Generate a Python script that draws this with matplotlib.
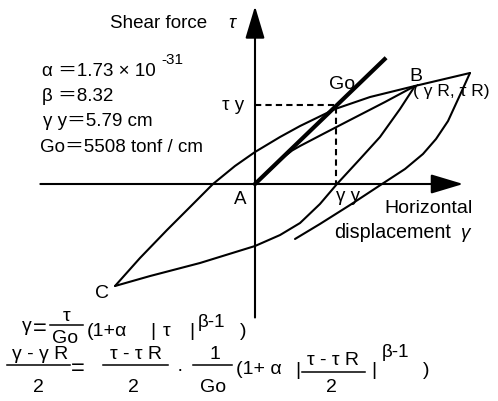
import matplotlib
matplotlib.use("Agg")
import matplotlib.pyplot as plt
import matplotlib.transforms as mtransforms

plt.rcParams["font.family"] = ["Liberation Sans", "Noto Sans CJK JP"]

# hysteresis sketch, in units of gamma_y and tau_y
go_gamma = [0.0, 1.60]
go_tau = [0.0, 1.58]

skel_gamma = [0.0, 0.185, 0.370, 0.460, 0.556, 0.864, 1.173, 1.605, 1.975]
skel_tau = [0.0, 0.177, 0.354, 0.425, 0.481, 0.646, 0.810, 1.038, 1.241]

upper_gamma = [2.654, 1.975, 1.420, 0.988, 0.556, 0.309, 0.0, -0.247, -0.519,
               -0.802, -1.086, -1.420, -1.728]
upper_tau = [1.405, 1.241, 1.101, 0.949, 0.734, 0.595, 0.405, 0.228, 0.0,
             -0.291, -0.582, -0.937, -1.291]

lower_gamma = [-1.728, -1.296, -0.679, 0.0, 0.309, 0.556, 0.802, 1.012, 1.296,
               1.543, 1.790, 1.975]
lower_tau = [-1.291, -1.165, -1.0, -0.785, -0.646, -0.494, -0.253, 0.0, 0.316,
             0.595, 0.949, 1.241]

unload_gamma = [2.654, 2.531, 2.383, 2.235, 2.074, 1.852, 1.568, 1.173, 0.802, 0.494]
unload_tau = [1.405, 1.127, 0.797, 0.570, 0.380, 0.190, 0.0, -0.266, -0.506, -0.696]

yield_gamma = 1.0
yield_tau = 1.0

W, H = 498, 402
fig = plt.figure(figsize=(W / 100, H / 100), dpi=100)
ax = fig.add_axes([0, 0, 1, 1])
ax.set_xlim(-255 / 81, (W - 255) / 81)
ax.set_ylim((185 - H) / 79, 185 / 79)
ax.axis("off")

# pixel coords from the top-left corner, for the labels
pix = mtransforms.Affine2D().scale(1, -1).translate(0, H)


def txt(x, y, s, size=13.5, **kw):
    return fig.text(x, y, s, transform=pix, fontsize=size, va="baseline", **kw)


def bar(x0, x1, y):
    ax.plot([x0, x1], [y, y], transform=pix, color="k", lw=1.1, clip_on=False)


# axes with arrows
arr = dict(arrowstyle="-|>,head_length=1.0,head_width=0.3", color="k", lw=1.5,
           mutation_scale=20, shrinkA=0, shrinkB=0)
ax.annotate("", xy=(2.57, 0), xytext=(-2.65, 0), arrowprops=arr)
ax.annotate("", xy=(0, 2.25), xytext=(0, -1.69), arrowprops=arr)

lk = dict(color="k", lw=1.5, solid_capstyle="round")
ax.plot(go_gamma, go_tau, color="k", lw=3.0)
ax.plot(skel_gamma, skel_tau, **lk)
ax.plot(upper_gamma, upper_tau, **lk)
ax.plot(lower_gamma, lower_tau, **lk)
ax.plot(unload_gamma, unload_tau, **lk)
ax.plot([0, yield_gamma, yield_gamma], [yield_tau, yield_tau, 0], color="k",
        lw=1.5, ls=(0, (3, 2)))

# labels
txt(110, 28, "Shear force")
txt(228, 28, "τ", style="italic")
txt(42, 76, "α ＝1.73 × 10")
txt(161, 64, "-31", size=11)
txt(42, 101, "β ＝8.32")
txt(43, 126, "γ y＝5.79 cm")
txt(40, 152, "Go＝5508 tonf / cm")
txt(244, 110, "τ y", ha="right")
txt(329, 89, "Go", size=14)
txt(409, 81, "B", size=14)
txt(413, 96, "( γ R, τ R)", size=12.5)
txt(240, 204, "A", ha="center")
txt(95, 298, "C", size=14)
txt(336, 201, "γ y")
txt(384, 213, "Horizontal", size=14)
txt(334, 238, "displacement", size=14.2)
txt(461, 238, "γ", style="italic")

# equation 1
txt(22, 331, "γ", size=14)
txt(33, 335, "=", size=17)
txt(67, 321, "τ", size=14, ha="center")
bar(50, 83, 326)
txt(65, 343, "Go", size=14, ha="center")
txt(87, 336, "(1+α", size=14)
txt(150, 336, "|", size=14)
txt(163, 336, "τ", size=14)
txt(189, 336, "|", size=14)
txt(198, 327, "β-1", size=13.5)
txt(240, 336, ")", size=14)

# equation 2
txt(40, 359, "γ - γ R", size=14, ha="center")
bar(7, 70, 366)
txt(38, 392, "2", size=14, ha="center")
txt(71, 375, "=", size=17)
txt(136, 359, "τ - τ R", size=14, ha="center")
bar(103, 168, 366)
txt(133, 392, "2", size=14, ha="center")
txt(180, 375, "·", size=14, ha="center")
txt(215, 359, "1", size=14, ha="center")
bar(193, 232, 366)
txt(213, 392, "Go", size=14, ha="center")
txt(236, 374, "(1+ α", size=14)
txt(295, 375, "|", size=14)
txt(333, 365, "τ - τ R", size=14, ha="center")
bar(302, 365, 373)
txt(331, 392, "2", size=14, ha="center")
txt(371, 375, "|", size=14)
txt(382, 357, "β-1", size=13.5)
txt(423, 375, ")", size=14)

fig.savefig("out.png", dpi=100)
